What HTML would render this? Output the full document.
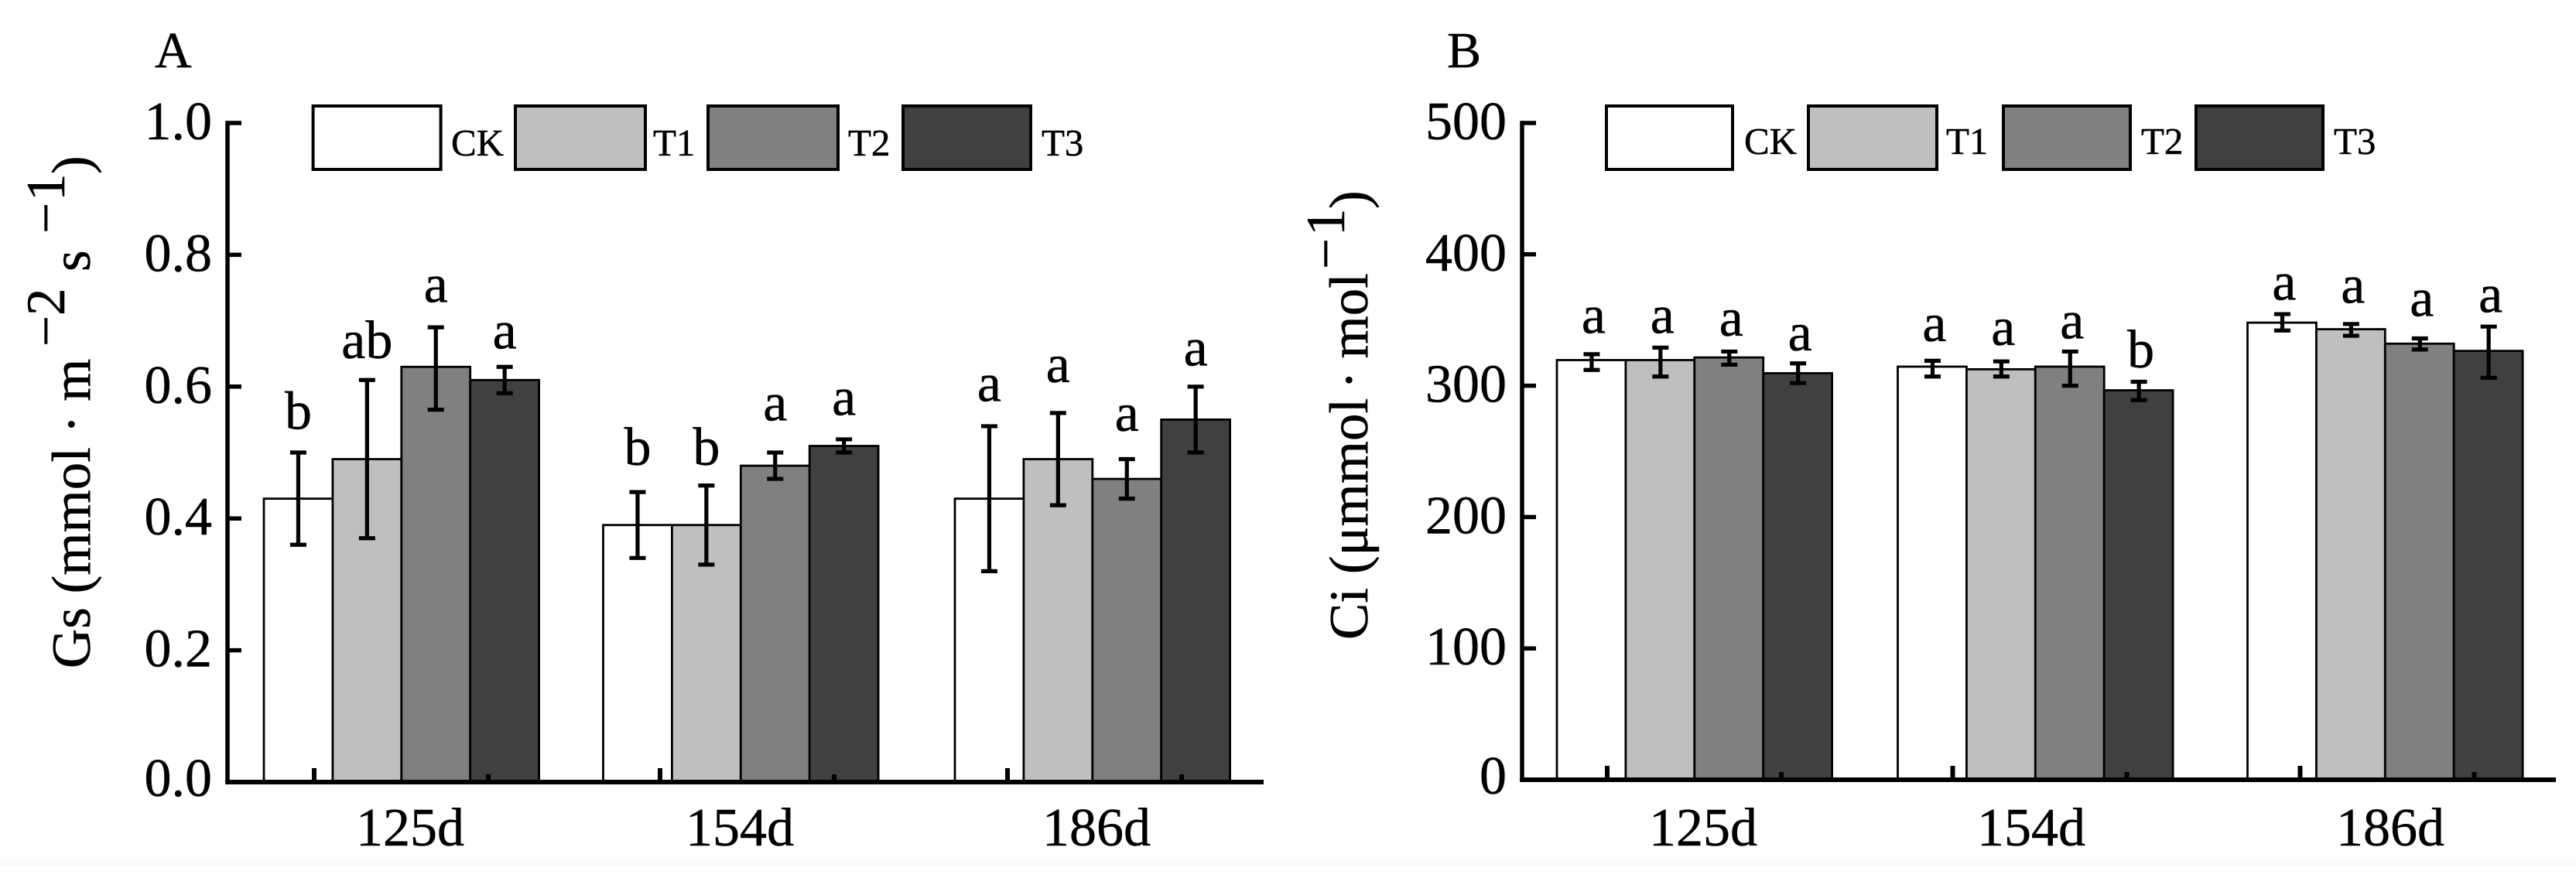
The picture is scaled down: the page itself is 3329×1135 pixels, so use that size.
<!DOCTYPE html>
<html lang="en">
<head>
<meta charset="utf-8">
<title>Gs and Ci bar charts</title>
<style>
html,body{margin:0;padding:0;background:#fff;}
svg{display:block;}
text{font-family:"Liberation Serif","Noto Serif CJK SC",serif;fill:#000;stroke:#000;stroke-width:0.5;}
</style>
</head>
<body>
<svg id="chart" xmlns="http://www.w3.org/2000/svg" width="3329" height="1135" viewBox="0 0 3329 1135">
  <rect x="0" y="0" width="3329" height="1135" fill="#ffffff"/>
  <rect x="0" y="1112" width="3329" height="7" fill="#fafafa"/>

  <text x="200" y="87" font-size="66">A</text>
  <text x="1870" y="87" font-size="66">B</text>

  <text transform="rotate(-90)" font-size="71">
    <tspan x="-864" y="116">Gs (mmol · m</tspan>
    <tspan x="-448" y="83">−2</tspan>
    <tspan x="-351" y="116">s</tspan>
    <tspan x="-302" y="83">−</tspan>
    <tspan x="-260" y="83">1</tspan>
    <tspan x="-225" y="116">)</tspan>
  </text>
  <text transform="rotate(-90)" font-size="71">
    <tspan x="-827" y="1767">Ci (μmmol</tspan>
    <tspan x="-503" y="1767">·</tspan>
    <tspan x="-463.5" y="1767">mol</tspan>
    <tspan x="-348" y="1737">−</tspan>
    <tspan x="-305" y="1737">1</tspan>
    <tspan x="-270" y="1767">)</tspan>
  </text>
  <g id="plots"></g>
</svg>
<script>
const categories = ['125d', '154d', '186d'];
const seriesNames = ['CK', 'T1', 'T2', 'T3'];

const gsTicks = ['0.0', '0.2', '0.4', '0.6', '0.8', '1.0'];
const gsValues = [[0.43, 0.49, 0.63, 0.61], [0.39, 0.39, 0.48, 0.51], [0.43, 0.49, 0.46, 0.55]];
const gsErrLow = [[0.36, 0.37, 0.565, 0.59], [0.34, 0.33, 0.46, 0.50], [0.32, 0.42, 0.43, 0.50]];
const gsErrHigh = [[0.50, 0.61, 0.69, 0.63], [0.44, 0.45, 0.50, 0.52], [0.54, 0.56, 0.49, 0.60]];
const gsLetters = [['b', 'ab', 'a', 'a'], ['b', 'b', 'a', 'a'], ['a', 'a', 'a', 'a']];
const gsLetterGap = [[0.036, 0.033, 0.038, 0.028], [0.041, 0.031, 0.049, 0.037], [0.038, 0.047, 0.043, 0.032]];

const ciTicks = ['0', '100', '200', '300', '400', '500'];
const ciValues = [[319.5, 319.5, 321.5, 309.5], [314.5, 312.5, 314.5, 296.5], [348, 343, 332, 326.5]];
const ciErrLow = [[312, 307, 316, 302], [307, 307, 300, 289], [342, 338, 327.5, 306]];
const ciErrHigh = [[324, 329, 326, 317], [319, 318.5, 326, 303], [354.5, 347, 336, 345]];
const ciLetters = [['a', 'a', 'a', 'a'], ['a', 'a', 'a', 'b'], ['a', 'a', 'a', 'a']];
const ciLetterGap = [[16, 11, 12, 10], [15, 12.5, 10, 11], [11, 16, 17, 11]];

const barFills = ['#ffffff', '#bfbfbf', '#808080', '#404040'];
const NS = 'http://www.w3.org/2000/svg';
const root = document.getElementById('plots');

function make(parent, tag, attrs) {
  const el = document.createElementNS(NS, tag);
  for (const k in attrs) el.setAttribute(k, attrs[k]);
  parent.appendChild(el);
  return el;
}

function drawPanel(p) {
  const g = make(root, 'g', {});
  
  
  const yScale = v => p.y0 - (v / p.yMax) * (p.y0 - p.y1);
  const bandLeft = i => p.bandStart + i * p.bandStep + p.bandNudge[i];
  const barW = 88.9;

  categories.forEach((cat, i) => {
    seriesNames.forEach((s, j) => {
      const x = bandLeft(i) + j * barW;
      const top = yScale(p.values[i][j]);
      const bar = make(g, 'rect', {x: x, y: top, width: barW, height: p.y0 - top, fill: barFills[j], stroke: '#000', 'stroke-width': 2.8});
      
      
    });
  });

  categories.forEach((cat, i) => {
    seriesNames.forEach((s, j) => {
      const cx = bandLeft(i) + (j + 0.5) * barW + p.errShift;
      const hi = yScale(p.errHigh[i][j]);
      const lo = yScale(p.errLow[i][j]);
      const err = make(g, 'path', {d: 'M' + cx + ' ' + hi + 'V' + lo + 'M' + (cx - 10.5) + ' ' + hi + 'H' + (cx + 10.5) + 'M' + (cx - 10.5) + ' ' + lo + 'H' + (cx + 10.5), fill: 'none', stroke: '#000', 'stroke-width': 5.2});
      
      
      const letter = make(g, 'text', {x: cx + p.letterShift, y: yScale(p.errHigh[i][j] + p.letterGap[i][j]), 'font-size': 70, 'text-anchor': 'middle'});
      letter.textContent = p.letters[i][j];
      
      
    });
  });

  const yAxis = make(g, 'line', {x1: p.axisX, x2: p.axisX, y1: p.y1 - 2.75, y2: p.y0 + 3, stroke: '#000', 'stroke-width': 5.5});
  
  
  const xAxis = make(g, 'line', {x1: p.axisX - 2.75, x2: p.axisEnd, y1: p.y0, y2: p.y0, stroke: '#000', 'stroke-width': 6});
  
  

  p.ticks.forEach(t => {
    const y = yScale(parseFloat(t));
    const tick = make(g, 'line', {x1: p.axisX, x2: p.axisX + 18, y1: y, y2: y, stroke: '#000', 'stroke-width': 5.5});
    
    
    const label = make(g, 'text', {x: p.axisX + p.labelRight, y: y + (parseFloat(t) === 0 ? 18 : 21), 'font-size': 70, 'text-anchor': 'end'});
    label.textContent = t;
    
    
  });

  categories.forEach((cat, i) => {
    const major = bandLeft(i) + p.tickOffset[i];
    const majorTick = make(g, 'line', {x1: major, x2: major, y1: p.y0 - 18, y2: p.y0, stroke: '#000', 'stroke-width': 6});
    
    
    const minorTick = make(g, 'line', {x1: major + 225, x2: major + 225, y1: p.y0 - 10, y2: p.y0, stroke: '#000', 'stroke-width': 6});
    
    
    const label = make(g, 'text', {x: bandLeft(i) + p.labelOffset[i], y: 1093, 'font-size': 70, 'text-anchor': 'middle'});
    label.textContent = cat;
    
    
  });

  seriesNames.forEach((s, j) => {
    const swatch = make(g, 'rect', {x: p.legendX[j], y: 137, width: p.legendW[j], height: 82, fill: barFills[j], stroke: '#000', 'stroke-width': 4});
    
    
    const label = make(g, 'text', {x: p.legendTextX[j], y: p.legendBase, 'font-size': 49});
    label.textContent = s;
    
    
  });
}

drawPanel({
  id: 'a', values: gsValues, errLow: gsErrLow, errHigh: gsErrHigh, letters: gsLetters, letterGap: gsLetterGap,
  ticks: gsTicks, yMax: 1, y0: 1011, y1: 159, axisX: 294, axisEnd: 1633, labelRight: -20,
  bandStart: 341, bandStep: 446.5, bandNudge: [0, -8, 0], errShift: 0, letterShift: 0,
  tickOffset: [65, 73.5, 68], labelOffset: [189, 176.5, 183],
  legendX: [404.6, 666, 915, 1167], legendW: [165, 168, 168, 165], legendTextX: [583, 844, 1096, 1346], legendBase: 201
});
drawPanel({
  id: 'b', values: ciValues, errLow: ciErrLow, errHigh: ciErrHigh, letters: ciLetters, letterGap: ciLetterGap,
  ticks: ciTicks, yMax: 500, y0: 1008, y1: 159, axisX: 1967, axisEnd: 3303, labelRight: -20,
  bandStart: 2012, bandStep: 446.25, bandNudge: [0, -5.75, 0], errShift: 0.5, letterShift: 2.5,
  tickOffset: [65, 71, 68], labelOffset: [189, 172.5, 184.5],
  legendX: [2076, 2337, 2589, 2838], legendW: [163, 166, 164, 164], legendTextX: [2254, 2515, 2767, 3016], legendBase: 199
});
</script>
</body>
</html>
